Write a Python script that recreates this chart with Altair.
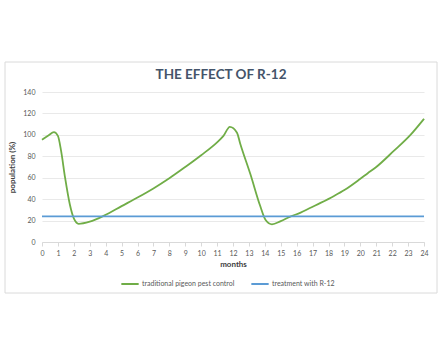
import altair as alt
import pandas as pd

# traditional pigeon pest control (month, population %)
green_months = [0, 0.4, 0.75, 1.0, 1.2, 1.45, 1.75, 2.0, 2.3, 3.0, 3.9, 5, 6, 7, 8, 9, 10, 11,
                11.4, 11.8, 12.25, 12.45, 13.1, 13.7, 14.05, 14.45, 15.0, 15.6, 16.25, 16.8,
                17.5, 18.35, 19, 20, 20.45, 21, 22.1, 23.15, 24]
green_values = [95.5, 99.5, 102.5, 99, 85, 60, 35, 22, 17, 19, 24.6, 33.5, 41.5, 50, 59.5, 70, 81, 93,
                99, 107.5, 102, 92, 63, 34, 20.5, 16.5, 19.5, 23.7, 27.4, 31.5,
                36.5, 43, 48.5, 59, 64, 70, 85, 100, 115]
# treatment with R-12
blue_months = [0, 24]
blue_values = [24, 24]

series_names = ["traditional pigeon pest control", "treatment with R-12"]
series_colors = ["#70AD47", "#5B9BD5"]

df = pd.DataFrame({
    "month": green_months + blue_months,
    "value": green_values + blue_values,
    "series": [series_names[0]] * len(green_months) + [series_names[1]] * len(blue_months),
})

FONT = "Lato"

frame = alt.Chart(pd.DataFrame({"a": [0]})).mark_rect(
    fill=None, stroke="#DADADA", strokeWidth=1
).encode(
    x=alt.value(-37), x2=alt.value(395), y=alt.value(-30), y2=alt.value(201)
)

lines = alt.Chart(df).mark_line(interpolate="monotone", strokeWidth=1.8).encode(
    x=alt.X("month:Q", title="months",
            scale=alt.Scale(domain=[0, 24], nice=False),
            axis=alt.Axis(values=list(range(0, 25)), grid=False,
                          labelOverlap=False, labelFlush=False,
                          domainColor="#D9D9D9", tickColor="#D9D9D9", tickSize=4,
                          labelColor="#595959", labelFontSize=7, labelFont=FONT,
                          labelPadding=3, titleFont=FONT, titleFontSize=8,
                          titleColor="#404040", titleFontWeight="bold", titlePadding=4)),
    y=alt.Y("value:Q", title="population (%)",
            scale=alt.Scale(domain=[0, 140], nice=False),
            axis=alt.Axis(values=list(range(0, 141, 20)), domain=False, ticks=False,
                          gridColor="#E9E9E9", gridWidth=1,
                          labelColor="#595959", labelFontSize=7, labelFont=FONT,
                          labelPadding=7, titleFont=FONT, titleFontSize=8,
                          titleColor="#404040", titleFontWeight="bold", titlePadding=6)),
    color=alt.Color("series:N",
                    scale=alt.Scale(domain=series_names, range=series_colors),
                    legend=alt.Legend(title=None, orient="none", legendX=78, legendY=182,
                                      direction="horizontal", symbolType="stroke",
                                      symbolStrokeWidth=2, symbolSize=300,
                                      labelFont=FONT, labelFontSize=7, labelColor="#595959",
                                      columnPadding=12, labelOffset=2)),
)

chart = alt.layer(frame, lines).properties(
    width=382, height=150,
    padding={"left": 42, "top": 92, "right": 16, "bottom": 110},
    autosize=alt.AutoSizeParams(type="none"),
    title=alt.TitleParams("THE EFFECT OF R-12", font=FONT, fontSize=13.5, fontWeight="bold",
                          color="#44546A", anchor="middle", dx=-12, dy=32, offset=12),
    background="white",
).configure_view(stroke=None)

chart.save("out.html", embed_options={"renderer": "svg", "actions": False})
